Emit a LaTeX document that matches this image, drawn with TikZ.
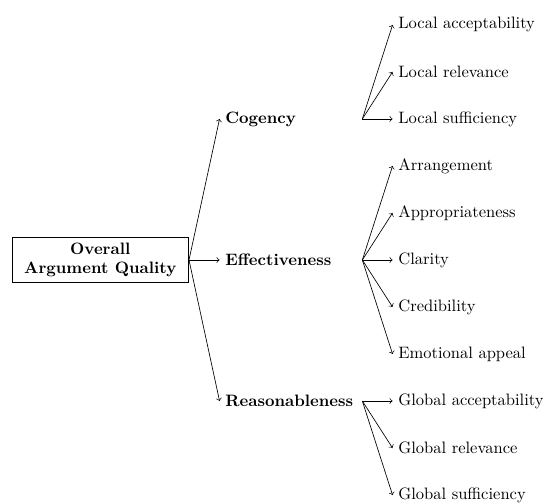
\documentclass[tikz,border=0pt]{standalone}
\begin{document}
\begin{tikzpicture}[
    root/.style={draw, align=center, font=\bfseries, inner xsep=7.5pt, inner ysep=3pt},
    dim/.style={anchor=west, font=\bfseries},
    sub/.style={anchor=west}]
    \useasboundingbox (0,-5.19) rectangle (11.55,5.53);
    \node[root, anchor=east] (oaq) at (4.02,0) {Overall\\Argument Quality};

    \node[dim] (cog) at (4.67,3) {Cogency};
    \node[dim] (eff) at (4.67,0) {Effectiveness};
    \node[dim] (rea) at (4.67,-3) {Reasonableness};

    \node[sub] (lac) at (8.35,5) {Local acceptability};
    \node[sub] (lre) at (8.35,4) {Local relevance};
    \node[sub] (lsu) at (8.35,3) {Local sufficiency};
    \node[sub] (arr) at (8.35,2) {Arrangement};
    \node[sub] (app) at (8.35,1) {Appropriateness};
    \node[sub] (cla) at (8.35,0) {Clarity};
    \node[sub] (cre) at (8.35,-1) {Credibility};
    \node[sub] (emo) at (8.35,-2) {Emotional appeal};
    \node[sub] (gac) at (8.35,-3) {Global acceptability};
    \node[sub] (gre) at (8.35,-4) {Global relevance};
    \node[sub] (gsu) at (8.35,-5) {Global sufficiency};

    \coordinate (cogr) at ([xshift=2pt]rea.east |- cog.east);
    \coordinate (effr) at ([xshift=2pt]rea.east |- eff.east);
    \coordinate (rear) at ([xshift=2pt]rea.east);

    \draw[->] (oaq.east) -- (cog.west);
    \draw[->] (oaq.east) -- (eff.west);
    \draw[->] (oaq.east) -- (rea.west);

    \draw[->] (cogr) -- (lac.west);
    \draw[->] (cogr) -- (lre.west);
    \draw[->] (cogr) -- (lsu.west);
    \draw[->] (effr) -- (arr.west);
    \draw[->] (effr) -- (app.west);
    \draw[->] (effr) -- (cla.west);
    \draw[->] (effr) -- (cre.west);
    \draw[->] (effr) -- (emo.west);
    \draw[->] (rear) -- (gac.west);
    \draw[->] (rear) -- (gre.west);
    \draw[->] (rear) -- (gsu.west);
\end{tikzpicture}
\end{document}
